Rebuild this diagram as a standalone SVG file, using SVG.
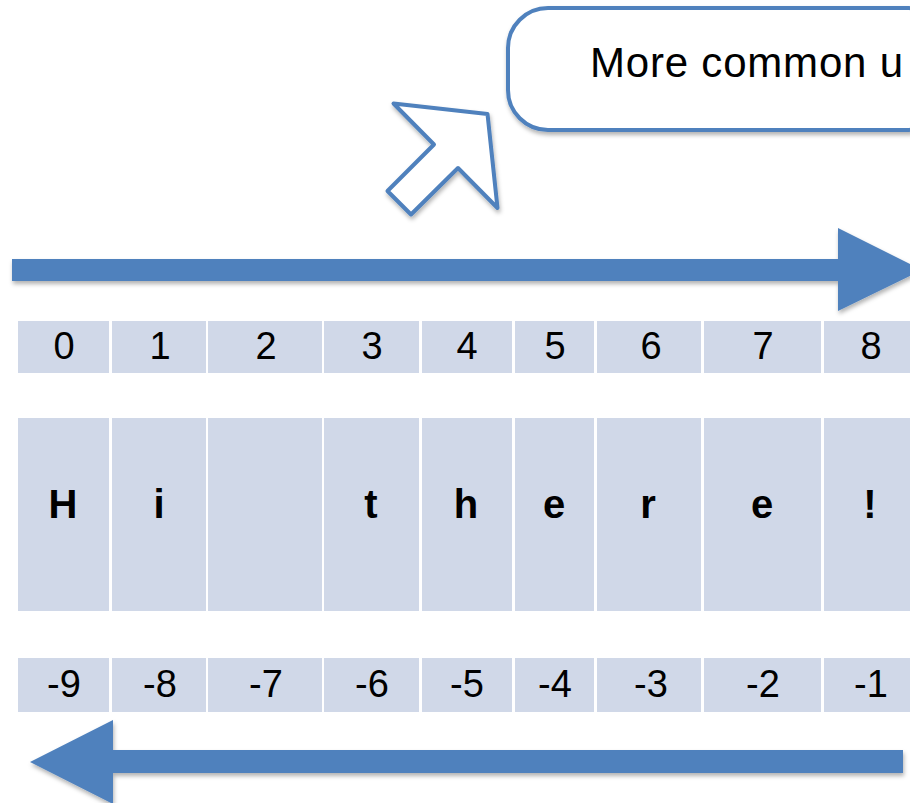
<svg xmlns="http://www.w3.org/2000/svg" width="910" height="803" viewBox="0 0 910 803">
<defs>
<filter id="sh" x="-10%" y="-20%" width="130%" height="160%">
<feDropShadow dx="1" dy="3" stdDeviation="2" flood-color="#000" flood-opacity="0.3"/>
</filter>
</defs>
<style>
.cell{fill:#d0d8e8}
.num{font-family:"Liberation Sans",Arial,sans-serif;font-size:38px;fill:#000;text-anchor:middle}
.chr{font-family:"Liberation Sans",Arial,sans-serif;font-size:40px;font-weight:bold;fill:#000;text-anchor:middle}
.blue{fill:#4f81bd}
.outline{fill:#fff;stroke:#4f81bd;stroke-width:4;stroke-linejoin:round}
</style>
<rect width="910" height="803" fill="#fff"/>

<g id="callout">
<rect class="outline" x="508" y="8" width="440" height="122" rx="40" ry="40" filter="url(#sh)"/>
<text x="590" y="77" font-family="Liberation Sans, Arial, sans-serif" font-size="42" fill="#000" textLength="313" lengthAdjust="spacing">More common u</text>
</g>

<g id="pointer">
<polygon class="outline" stroke-width="3.5" filter="url(#sh)" points="393.5,103.5 487.5,114 497.5,208 458,168 411,214.5 387.5,191 434,144.5"/>
</g>

<g id="connectors">
<polygon id="forward-arrow" class="blue" filter="url(#sh)" points="12,259 838,259 838,228 922,270 838,311 838,281 12,281"/>
<polygon id="backward-arrow" class="blue" filter="url(#sh)" points="903,750 113,750 113,720 30,762 113,804 113,773 903,773"/>
</g>

<g id="index-row">
<rect class="cell" x="18" y="321" width="91" height="52"/>
<rect class="cell" x="112" y="321" width="94" height="52"/>
<rect class="cell" x="208" y="321" width="114" height="52"/>
<rect class="cell" x="324" y="321" width="95" height="52"/>
<rect class="cell" x="422" y="321" width="90" height="52"/>
<rect class="cell" x="515" y="321" width="79" height="52"/>
<rect class="cell" x="597" y="321" width="104" height="52"/>
<rect class="cell" x="704" y="321" width="117" height="52"/>
<rect class="cell" x="824" y="321" width="90" height="52"/>
<text class="num" x="64" y="359">0</text>
<text class="num" x="160" y="359">1</text>
<text class="num" x="266" y="359">2</text>
<text class="num" x="372" y="359">3</text>
<text class="num" x="467" y="359">4</text>
<text class="num" x="555" y="359">5</text>
<text class="num" x="651" y="359">6</text>
<text class="num" x="763" y="359">7</text>
<text class="num" x="871" y="359">8</text>
</g>

<g id="char-row">
<rect class="cell" x="18" y="418" width="91" height="193"/>
<rect class="cell" x="112" y="418" width="94" height="193"/>
<rect class="cell" x="208" y="418" width="114" height="193"/>
<rect class="cell" x="324" y="418" width="95" height="193"/>
<rect class="cell" x="422" y="418" width="90" height="193"/>
<rect class="cell" x="515" y="418" width="79" height="193"/>
<rect class="cell" x="597" y="418" width="104" height="193"/>
<rect class="cell" x="704" y="418" width="117" height="193"/>
<rect class="cell" x="824" y="418" width="90" height="193"/>
<text class="chr" x="63" y="518">H</text>
<text class="chr" x="159" y="518">i</text>
<text class="chr" x="371" y="518">t</text>
<text class="chr" x="466" y="518">h</text>
<text class="chr" x="554" y="518">e</text>
<text class="chr" x="648" y="518">r</text>
<text class="chr" x="762" y="518">e</text>
<text class="chr" x="870" y="518">!</text>
</g>

<g id="negative-row">
<rect class="cell" x="18" y="658" width="91" height="54"/>
<rect class="cell" x="112" y="658" width="94" height="54"/>
<rect class="cell" x="208" y="658" width="114" height="54"/>
<rect class="cell" x="324" y="658" width="95" height="54"/>
<rect class="cell" x="422" y="658" width="90" height="54"/>
<rect class="cell" x="515" y="658" width="79" height="54"/>
<rect class="cell" x="597" y="658" width="104" height="54"/>
<rect class="cell" x="704" y="658" width="117" height="54"/>
<rect class="cell" x="824" y="658" width="90" height="54"/>
<text class="num" x="64" y="697">-9</text>
<text class="num" x="160" y="697">-8</text>
<text class="num" x="266" y="697">-7</text>
<text class="num" x="372" y="697">-6</text>
<text class="num" x="467" y="697">-5</text>
<text class="num" x="555" y="697">-4</text>
<text class="num" x="651" y="697">-3</text>
<text class="num" x="763" y="697">-2</text>
<text class="num" x="871" y="697">-1</text>
</g>
</svg>
